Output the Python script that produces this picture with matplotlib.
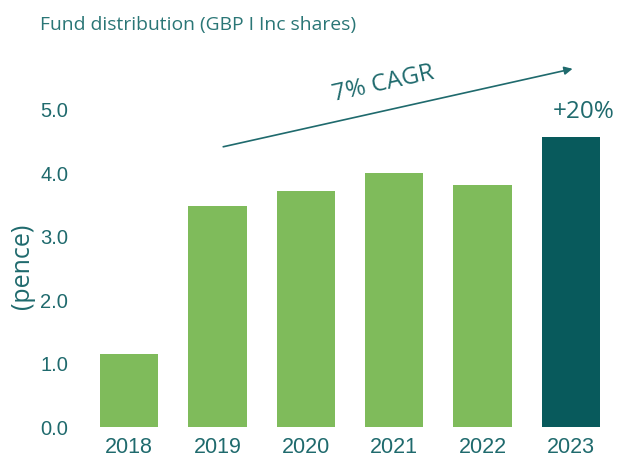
import matplotlib
matplotlib.use("Agg")
import matplotlib.pyplot as plt

years = ["2018", "2019", "2020", "2021", "2022", "2023"]
pence = [1.15, 3.49, 3.72, 4.01, 3.82, 4.57]
colors = ["#7fbb5b"] * 5 + ["#085a5c"]
yticks = [0.0, 1.0, 2.0, 3.0, 4.0, 5.0]

teal = "#1f6a6d"

fig = plt.figure(figsize=(6.18, 4.57), dpi=100)
ax = fig.add_axes([0.1375, 0.0656, 0.8576, 0.8047])

x = range(len(years))
ax.bar(x, pence, width=0.66, color=colors)

ax.set_xlim(-0.5, 5.5)
ax.set_ylim(0, 5.8)
ax.set_xticks(list(x))
ax.set_xticklabels(years, fontsize=15.5, color=teal, family="Liberation Sans")
ax.set_yticks(yticks)
ax.set_yticklabels([f"{v:.1f}" for v in yticks], fontsize=14.5, color=teal,
                   family="Liberation Sans")
ax.tick_params(length=0)
ax.tick_params(axis="x", pad=7)
ax.tick_params(axis="y", pad=12)
for s in ax.spines.values():
    s.set_visible(False)

# annotations
ax.text(5.15, 4.87, "+20%", ha="center", va="baseline",
        fontsize=17.5, color=teal, family="Open Sans")
ax.annotate("", xy=(5.02, 5.65), xytext=(1.065, 4.42),
            arrowprops=dict(arrowstyle="-|>", color=teal, lw=1.2,
                            mutation_scale=12, shrinkA=0, shrinkB=0),
            annotation_clip=False)
ax.text(2.88, 5.41, "7% CAGR", ha="center", va="center", rotation=12.5,
        fontsize=17.5, color=teal, family="Open Sans")

fig.text(40 / 618, 1 - 25 / 457, "Fund distribution (GBP I Inc shares)",
         ha="left", va="center", fontsize=13.9, color="#2a7676",
         family="Open Sans")
fig.text(23 / 618, 1 - 266 / 457, "(pence)", ha="center", va="center",
         rotation=90, fontsize=18, color=teal, family="Open Sans")

fig.savefig("out.png", dpi=100)
